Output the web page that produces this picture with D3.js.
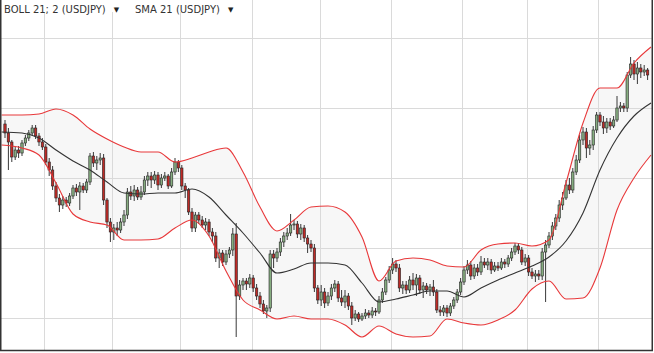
<!DOCTYPE html>
<html>
<head>
<meta charset="utf-8">
<script src="https://cdn.jsdelivr.net/npm/d3@7/dist/d3.min.js"></script>
<style>
  html, body { margin: 0; padding: 0; background: #fff; }
  svg { display: block; }
  .legend { font-family: "DejaVu Sans", Verdana, sans-serif; font-size: 10px; fill: #333; }
  .legend-arrow { font-family: "DejaVu Sans", sans-serif; font-size: 7px; fill: #222; }
</style>
</head>
<body>
<div id="chart"></div>
<script>
/* ── USDJPY daily candles with BOLL 21;2 and SMA 21 ──────────── */

// ── Data ──────────────────────────────────────────
const opens = [98.76,98.67,98.58,98.43,98.50,98.47,98.57,98.62,98.67,98.72,98.64,98.58,98.53,98.38,98.30,98.14,98.02,97.95,98.00,97.97,
  98.04,98.12,98.08,98.14,98.10,98.18,98.44,98.37,98.40,98.42,98.00,97.78,97.68,97.72,97.70,97.78,97.85,98.08,98.04,98.10,
  98.03,98.08,98.20,98.24,98.20,98.25,98.15,98.22,98.24,98.14,98.28,98.38,98.32,98.14,98.10,97.88,97.72,97.85,97.80,97.75,
  97.78,97.68,97.64,97.42,97.47,97.38,97.46,97.50,97.66,97.04,97.15,97.19,97.16,97.22,97.12,97.04,96.96,96.89,96.92,97.46,
  97.42,97.48,97.58,97.64,97.67,97.75,97.76,97.66,97.72,97.62,97.56,97.52,97.12,97.00,97.08,96.97,97.04,97.12,97.16,97.02,
  96.98,97.04,96.94,96.82,96.86,96.81,96.84,96.87,96.85,96.89,96.88,97.00,97.08,97.20,97.30,97.36,97.32,97.12,97.15,97.10,
  97.20,97.15,97.22,97.10,97.14,97.10,97.13,97.08,96.90,96.88,96.92,96.87,96.94,97.00,97.08,97.18,97.30,97.35,97.24,97.32,
  97.28,97.38,97.35,97.38,97.30,97.34,97.32,97.38,97.36,97.42,97.48,97.54,97.50,97.38,97.42,97.28,97.24,97.26,97.24,97.48,
  97.55,97.64,97.74,97.82,97.95,98.02,98.15,98.10,98.28,98.40,98.60,98.68,98.52,98.55,98.70,98.85,98.78,98.72,98.78,98.74,
  98.80,98.92,98.94,98.92,99.25,99.36,99.26,99.32,99.28,99.30];

const highs = [98.80,98.72,98.60,98.53,98.54,98.60,98.65,98.70,98.75,98.75,98.67,98.62,98.56,98.42,98.34,98.18,98.06,98.04,98.03,98.07,
  98.15,98.16,98.18,98.17,98.21,98.47,98.48,98.44,98.47,98.46,98.02,97.82,97.76,97.78,97.82,97.90,98.12,98.14,98.15,98.13,
  98.14,98.24,98.28,98.28,98.29,98.28,98.26,98.28,98.26,98.32,98.42,98.40,98.35,98.17,98.12,97.92,97.88,97.88,97.84,97.82,
  97.81,97.72,97.68,97.51,97.50,97.50,97.53,97.72,97.77,97.20,97.22,97.22,97.26,97.25,97.16,97.08,97.00,96.95,97.50,97.50,
  97.52,97.62,97.68,97.72,97.86,97.80,97.79,97.76,97.75,97.65,97.60,97.56,97.15,97.15,97.12,97.08,97.16,97.20,97.19,97.10,
  97.10,97.07,96.98,96.90,96.88,96.87,96.91,96.90,96.93,96.92,97.04,97.12,97.23,97.34,97.42,97.40,97.36,97.19,97.19,97.24,
  97.27,97.26,97.25,97.18,97.17,97.16,97.20,97.11,96.94,96.95,96.95,96.97,97.03,97.11,97.22,97.34,97.40,97.39,97.36,97.36,
  97.44,97.42,97.42,97.41,97.38,97.38,97.42,97.41,97.45,97.52,97.57,97.57,97.53,97.46,97.45,97.32,97.30,97.30,97.52,97.60,
  97.68,97.78,97.86,98.00,98.08,98.20,98.22,98.32,98.45,98.65,98.73,98.72,98.60,98.74,98.88,98.88,98.84,98.82,98.82,98.84,
  99.04,98.98,98.97,99.28,99.43,99.40,99.38,99.36,99.35,99.32];

const lows = [98.62,98.30,98.38,98.40,98.42,98.44,98.54,98.59,98.64,98.61,98.54,98.50,98.35,98.24,98.10,97.98,97.88,97.91,97.93,97.94,
  98.01,98.04,97.90,98.07,98.07,98.15,98.33,98.30,98.35,97.95,97.72,97.58,97.60,97.64,97.67,97.74,97.81,98.00,97.99,98.00,
  98.00,98.05,98.14,98.12,98.16,98.10,98.12,98.19,98.11,98.12,98.25,98.28,98.10,98.02,97.85,97.68,97.68,97.76,97.72,97.70,
  97.64,97.58,97.38,97.32,97.34,97.35,97.42,97.44,96.63,97.00,97.10,97.10,97.12,97.08,97.00,96.92,96.86,96.82,96.88,97.32,
  97.38,97.44,97.53,97.60,97.64,97.70,97.62,97.60,97.58,97.47,97.48,97.08,96.96,96.94,96.92,96.94,97.00,97.08,96.98,96.94,
  96.92,96.90,96.75,96.79,96.78,96.79,96.81,96.82,96.82,96.84,96.86,96.97,97.05,97.17,97.26,97.28,97.08,97.06,97.06,97.07,
  97.10,97.04,97.06,97.02,97.06,97.04,97.04,96.87,96.84,96.84,96.83,96.84,96.91,96.97,97.05,97.15,97.26,97.20,97.21,97.24,
  97.25,97.32,97.30,97.26,97.28,97.29,97.30,97.32,97.33,97.39,97.45,97.46,97.35,97.34,97.24,97.21,97.18,97.20,97.20,96.98,
  97.52,97.60,97.70,97.78,97.90,98.00,98.06,98.07,98.25,98.37,98.55,98.42,98.45,98.50,98.67,98.74,98.66,98.67,98.70,98.72,
  98.78,98.88,98.88,98.88,99.22,99.20,99.16,99.22,99.24,99.20];

const closes = [98.67,98.58,98.43,98.50,98.47,98.57,98.62,98.67,98.72,98.64,98.58,98.53,98.38,98.30,98.14,98.02,97.95,98.00,97.97,98.04,
  98.12,98.08,98.14,98.10,98.18,98.44,98.37,98.40,98.42,98.00,97.78,97.68,97.72,97.70,97.78,97.85,98.08,98.04,98.10,98.03,
  98.08,98.20,98.24,98.20,98.25,98.15,98.22,98.24,98.14,98.28,98.38,98.32,98.14,98.10,97.88,97.72,97.85,97.80,97.75,97.78,
  97.68,97.64,97.42,97.47,97.38,97.46,97.50,97.66,97.04,97.15,97.19,97.16,97.22,97.12,97.04,96.96,96.89,96.92,97.46,97.42,
  97.48,97.58,97.64,97.67,97.75,97.76,97.66,97.72,97.62,97.56,97.52,97.12,97.00,97.08,96.97,97.04,97.12,97.16,97.02,96.98,
  97.04,96.94,96.82,96.86,96.81,96.84,96.87,96.85,96.89,96.88,97.00,97.08,97.20,97.30,97.36,97.32,97.12,97.15,97.10,97.20,
  97.15,97.22,97.10,97.14,97.10,97.13,97.08,96.90,96.88,96.92,96.87,96.94,97.00,97.08,97.18,97.30,97.35,97.24,97.32,97.28,
  97.38,97.35,97.38,97.30,97.34,97.32,97.38,97.36,97.42,97.48,97.54,97.50,97.38,97.42,97.28,97.24,97.26,97.24,97.48,97.55,
  97.64,97.74,97.82,97.95,98.02,98.15,98.10,98.28,98.40,98.60,98.68,98.52,98.55,98.70,98.85,98.78,98.72,98.78,98.74,98.80,
  98.92,98.94,98.92,99.25,99.36,99.26,99.32,99.28,99.30,99.25];

// Indicator readings (candle index → value)
const bandIdx = [-1,5,10,15,20,25,30,35,40,45,50,55,60,65,70,75,80,85,90,95,100,105,110,115,120,125,130,135,140,145,150,155,160,165,170,175,180,185,190];
const bollUpper = [98.85,98.85,98.86,98.91,98.85,98.71,98.61,98.53,98.48,98.48,98.38,98.42,98.48,98.52,98.28,97.93,97.69,97.80,97.93,97.94,
  97.88,97.63,97.19,97.39,97.42,97.40,97.34,97.33,97.50,97.56,97.57,97.54,97.60,98.17,98.77,99.12,99.12,99.37,99.53];
const sma21 = [98.68,98.67,98.62,98.50,98.39,98.30,98.18,98.07,98.06,98.07,98.07,98.11,98.03,97.85,97.67,97.47,97.27,97.31,97.37,97.37,
  97.35,97.17,96.98,97.01,97.05,97.09,97.09,97.03,97.12,97.20,97.27,97.34,97.43,97.59,97.87,98.30,98.62,98.84,98.97];
const bollLower = [98.55,98.52,98.45,98.17,97.86,97.78,97.75,97.60,97.60,97.61,97.72,97.80,97.64,97.29,97.00,96.90,96.81,96.84,96.81,96.81,
  96.75,96.63,96.74,96.66,96.63,96.64,96.81,96.77,96.75,96.80,96.90,97.11,97.19,97.01,97.02,97.32,97.90,98.22,98.45];

// Grid: first candle of each month, and price levels
const monthStarts = [12, 32, 52, 73, 93, 114, 135, 154, 175];
const priceLevels = [96.82, 97.52, 98.22, 98.92, 99.62];

const legendItems = ["BOLL 21; 2 (USDJPY)", "SMA 21 (USDJPY)"];

// ── Layout ────────────────────────────────────────
const W = 654, H = 353;
const PLOT = { left: 1, top: 0, right: 652, bottom: 351 };
const COLORS = {
  up: "#86ad80", down: "#be2b27", outline: "#222222",
  band: "#e8383a", sma: "#333333", fill: "#f7f7f7", grid: "#dadada"
};

const candles = closes.map((c, i) => ({ i, o: opens[i], h: highs[i], l: lows[i], c }));
const bands = bandIdx.map((i, k) => ({ i, up: bollUpper[k], mid: sma21[k], lo: bollLower[k] }));

const x = d3.scaleLinear().domain([0, candles.length - 1]).range([5, 647.6]);
const y = d3.scaleLinear().domain([96.49, 100]).range([PLOT.bottom, PLOT.top]);
const step = x(1) - x(0);
const bodyW = step * 0.7;

const svg = d3.select("#chart").append("svg")
  .attr("width", W).attr("height", H);

svg.append("clipPath").attr("id", "plot-clip")
  .append("rect")
  .attr("x", PLOT.left).attr("y", PLOT.top)
  .attr("width", PLOT.right - PLOT.left).attr("height", PLOT.bottom - PLOT.top);

const plot = svg.append("g").attr("clip-path", "url(#plot-clip)");

// ── Band fill ─────────────────────────────────────
plot.append("path")
  .datum(bands)
  .attr("fill", COLORS.fill)
  .attr("d", d3.area()
    .x(d => x(d.i)).y0(d => y(d.lo)).y1(d => y(d.up))
    .curve(d3.curveMonotoneX));

// ── Grid ──────────────────────────────────────────
const gGrid = plot.append("g");
gGrid.selectAll(".vgrid").data(monthStarts).join("line")
  .attr("class", "vgrid")
  .attr("x1", d => Math.round(x(d - 0.5)) + 0.5).attr("x2", d => Math.round(x(d - 0.5)) + 0.5)
  .attr("y1", PLOT.top).attr("y2", PLOT.bottom)
  .attr("stroke", COLORS.grid);
gGrid.selectAll(".hgrid").data(priceLevels).join("line")
  .attr("class", "hgrid")
  .attr("x1", PLOT.left).attr("x2", PLOT.right)
  .attr("y1", d => Math.round(y(d)) + 0.5).attr("y2", d => Math.round(y(d)) + 0.5)
  .attr("stroke", COLORS.grid);

// ── Candles ───────────────────────────────────────
const gCandles = plot.append("g");
const cg = gCandles.selectAll(".candle").data(candles).join("g").attr("class", "candle");

cg.append("line")
  .attr("x1", d => x(d.i)).attr("x2", d => x(d.i))
  .attr("y1", d => y(d.h)).attr("y2", d => y(d.l))
  .attr("stroke", COLORS.outline).attr("stroke-width", 0.9);

cg.append("rect")
  .attr("x", d => x(d.i) - bodyW / 2)
  .attr("width", bodyW)
  .attr("y", d => y(Math.max(d.o, d.c)))
  .attr("height", d => Math.max(1, Math.abs(y(d.o) - y(d.c))))
  .attr("fill", d => d.c >= d.o ? COLORS.up : COLORS.down)
  .attr("stroke", COLORS.outline).attr("stroke-width", 0.6);

// ── Indicator lines ───────────────────────────────
const line = key => d3.line().x(d => x(d.i)).y(d => y(d[key])).curve(d3.curveMonotoneX);

plot.append("path").datum(bands)
  .attr("fill", "none").attr("stroke", COLORS.sma).attr("stroke-width", 1.1)
  .attr("d", line("mid"));

["up", "lo"].forEach(key => {
  plot.append("path").datum(bands)
    .attr("fill", "none").attr("stroke", COLORS.band).attr("stroke-width", 1.1)
    .attr("d", line(key));
});

// ── Legend ────────────────────────────────────────
const legendX = [4, 135];
const gLegend = svg.append("g");
legendItems.forEach((label, k) => {
  const bg = gLegend.append("rect").attr("fill", "#fff");
  const t = gLegend.append("text")
    .attr("class", "legend")
    .attr("x", legendX[k]).attr("y", 13)
    .text(label);
  const w = t.node().getComputedTextLength();
  gLegend.append("text")
    .attr("class", "legend-arrow")
    .attr("x", legendX[k] + w + 8).attr("y", 12)
    .text("▼");
  bg.attr("x", legendX[k] - 2).attr("y", 0)
    .attr("width", w + 20).attr("height", 12);
});

// ── Frame ─────────────────────────────────────────
svg.append("rect")
  .attr("x", 0.75).attr("y", -1)
  .attr("width", 651.5).attr("height", 351.5)
  .attr("fill", "none")
  .attr("stroke", "#333").attr("stroke-width", 1.5);
</script>
</body>
</html>
